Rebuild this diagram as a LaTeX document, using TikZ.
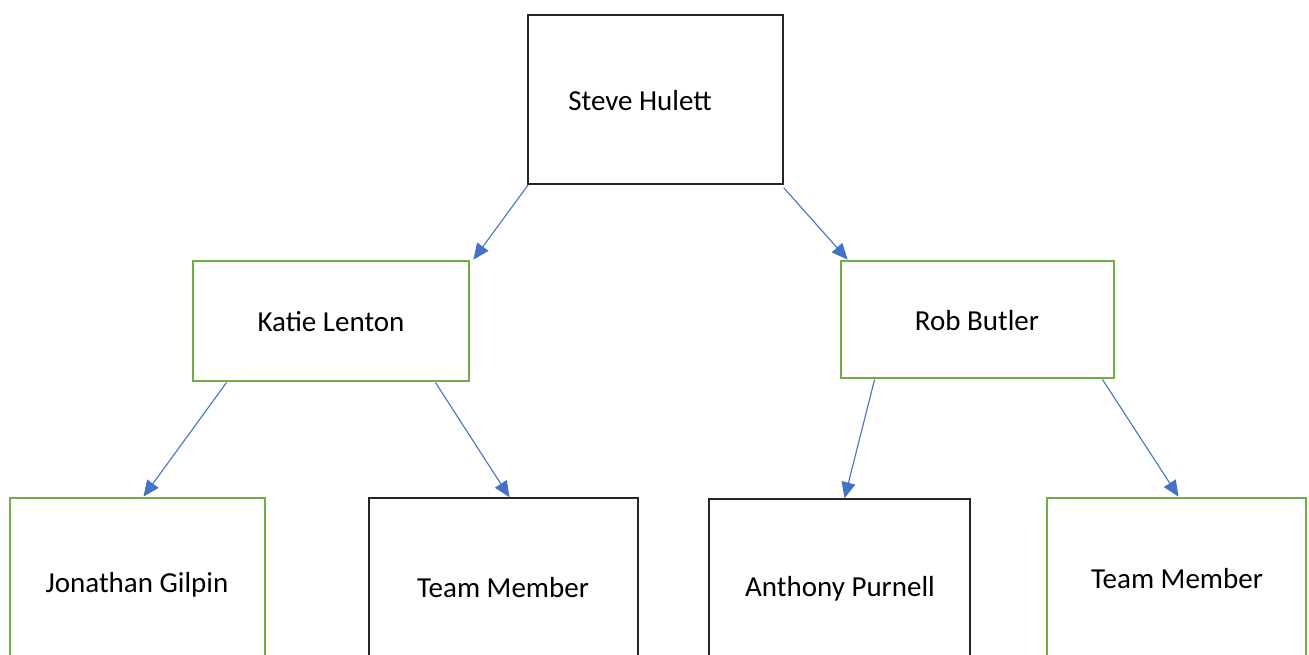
\documentclass[tikz,border=0pt]{standalone}
\usepackage{fontspec}
\setmainfont{Carlito}
\usetikzlibrary{arrows.meta}
\definecolor{boxgreen}{HTML}{70AD47}
\definecolor{linkblue}{HTML}{4472C4}
\begin{document}
\begin{tikzpicture}[x=1pt,y=-1pt,
  plainbox/.style={draw=black!85,line width=1.4pt,rectangle,inner sep=0pt},
  greenbox/.style={draw=boxgreen,line width=2.8pt,rectangle,inner sep=0pt},
  persontext/.style={font=\fontsize{29}{33}\selectfont,inner sep=0pt},
  link/.style={draw=linkblue,line width=1.1pt,-{Triangle[length=16pt,width=14pt]}}]
\useasboundingbox (0,0) rectangle (1309,655);
\clip (0,0) rectangle (1309,655);
% top level
\node[plainbox,minimum width=255pt,minimum height=169pt] (steve) at (655.5,99.5) {};
\node[persontext] (stevet) at (640,101) {Steve Hulett};
% second level
\node[greenbox,minimum width=276pt,minimum height=120pt] (katie) at (331,321) {};
\node[persontext] (katiet) at (331,322) {Katie Lenton};
\node[greenbox,minimum width=273pt,minimum height=117pt] (rob) at (977.5,319.5) {};
\node[persontext] (robt) at (977,321) {Rob Butler};
% third level
\node[greenbox,minimum width=255pt,minimum height=175pt] (jon) at (137.5,585.5) {};
\node[persontext] (jont) at (137,585) {Jonathan Gilpin};
\node[plainbox,minimum width=269pt,minimum height=175pt] (tm1) at (503.5,585.5) {};
\node[persontext] (tm1t) at (503,588) {Team Member};
\node[plainbox,minimum width=261pt,minimum height=175pt] (ant) at (839.5,586.5) {};
\node[persontext] (antt) at (840,589) {Anthony Purnell};
\node[greenbox,minimum width=259pt,minimum height=175pt] (tm2) at (1176.5,585.5) {};
\node[persontext] (tm2t) at (1177,579) {Team Member};
% reporting lines
\draw[link] ([xshift=1pt]steve.south west) -- ([xshift=3pt]katie.north east);
\draw[link] ([yshift=-3pt]steve.south east) -- ([xshift=8pt]rob.north west);
\draw[link] ([xshift=35pt]katie.south west) -- ([xshift=6pt]jon.north);
\draw[link] ([xshift=-35pt]katie.south east) -- ([xshift=6pt]tm1.north);
\draw[link] ([xshift=35pt]rob.south west) -- ([xshift=5pt]ant.north);
\draw[link] ([xshift=-13pt]rob.south east) -- ([xshift=2pt]tm2.north);
\end{tikzpicture}
\end{document}
